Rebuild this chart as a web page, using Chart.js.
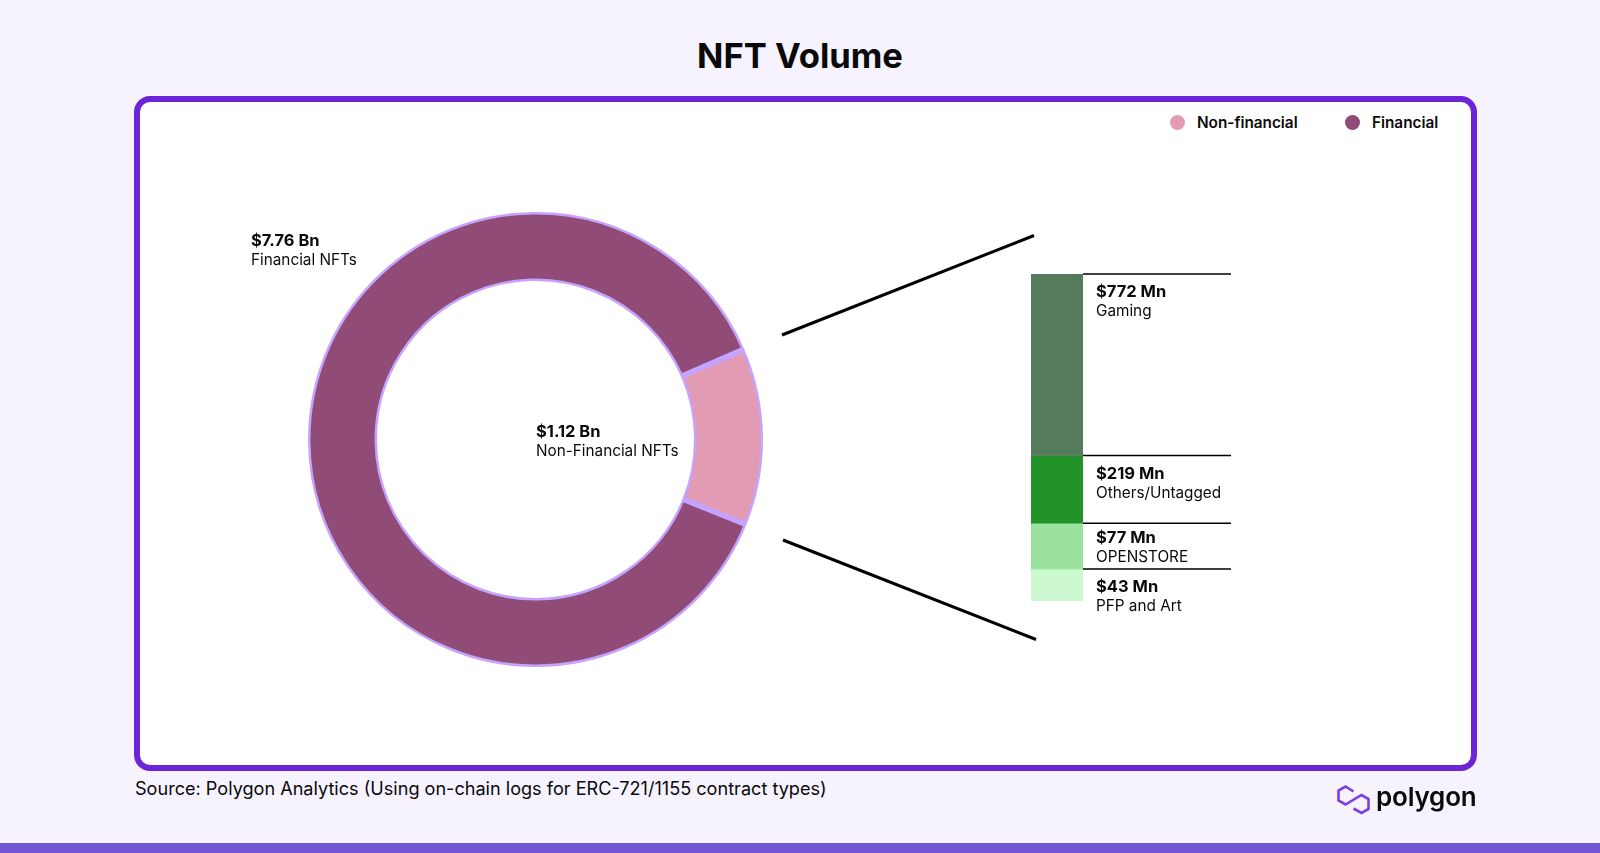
<!DOCTYPE html>
<html>
<head>
<meta charset="utf-8">
<title>NFT Volume</title>
<script src="https://cdn.jsdelivr.net/npm/chart.js@4"></script>
<style>
  html, body { margin: 0; padding: 0; background: #f6f3ff; }
  body { position: relative; width: 1600px; height: 853px; overflow: hidden; font-family: Inter, "Noto Sans", sans-serif; color: #0a0a0a; }
  .abs { position: absolute; white-space: nowrap; }
  #card { left: 134px; top: 96px; width: 1331px; height: 663px; border: 6px solid #6b24d6; border-radius: 16px; background: #fff; }
  #footerBar { left: 0; top: 843px; width: 1600px; height: 10px; background: #7356d4; }
  #title { left: 0; width: 1600px; top: 33px; text-align: center; font-size: 34.6px; line-height: 44px; font-weight: 700; }
  #source { left: 135px; top: 777px; font-size: 18.1px; line-height: 22px; }
  #logoText { left: 1376px; top: 780px; font-size: 26px; line-height: 34px; font-weight: 600; letter-spacing: -0.2px; }
  .dot { width: 15px; height: 15px; border-radius: 50%; }
  .legendText { font-size: 15.3px; line-height: 20px; font-weight: 600; }
  .amount { font-size: 16.5px; line-height: 20px; font-weight: 700; }
  .name { font-size: 15.3px; line-height: 19px; }
  canvas { position: absolute; }
</style>
</head>
<body>
<div id="card" class="abs"></div>
<div id="footerBar" class="abs"></div>
<div id="title" class="abs">NFT Volume</div>
<div id="source" class="abs">Source: Polygon Analytics (Using on-chain logs for ERC-721/1155 contract types)</div>

<div class="abs dot" style="left:1170px;top:115px;background:#e39ab3"></div>
<div class="abs legendText" style="left:1197px;top:113px">Non-financial</div>
<div class="abs dot" style="left:1345px;top:115px;background:#914b77"></div>
<div class="abs legendText" style="left:1372px;top:113px">Financial</div>

<canvas id="ringChart" width="455" height="455" style="left:308px;top:212px;width:455px;height:455px"></canvas>
<canvas id="stackChart" width="200" height="331" style="left:1031px;top:272px;width:200px;height:331px"></canvas>

<svg class="abs" style="left:0;top:0" width="1600" height="853">
  <line x1="782" y1="335" x2="1034" y2="235.5" stroke="#000" stroke-width="3"/>
  <line x1="783" y1="540" x2="1036" y2="639.5" stroke="#000" stroke-width="3"/>
  <path d="M1353.5 791.5 L1345.5 786.5 L1338.5 790.5 V800.5 L1345.5 804.5 L1361.5 795 L1368.5 799 V809 L1361.5 813 L1353.5 808.5" fill="none" stroke="#7b3fe4" stroke-width="2.6"/>
</svg>
<div id="logoText" class="abs">polygon</div>

<div id="labels"></div>

<script>
const ringNames = ["Non-financial", "Financial"];
const ringValues = [1.12, 7.76]; // $ Bn
const ringColors = ["#e39ab3", "#914b77"];

const stackNames = ["Gaming", "Others/Untagged", "OPENSTORE", "PFP and Art"];
const stackAmounts = ["$772 Mn", "$219 Mn", "$77 Mn", "$43 Mn"];
// share of the column height as drawn in the picture (the column is not to scale with the amounts)
const stackShares = [55.5, 20.7, 14.0, 9.8];
const stackColors = ["#557a5c", "#229329", "#9ae29e", "#ccf9d0"];
const labelTops = [281, 463, 527, 576];

// Texto de las etiquetas
const labels = document.getElementById("labels");
function addLabel(x, y, amount, name) {
  const a = document.createElement("div");
  a.className = "abs amount";
  a.style.left = x + "px";
  a.style.top = y + "px";
  a.textContent = amount;
  const n = document.createElement("div");
  n.className = "abs name";
  n.style.left = x + "px";
  n.style.top = (y + 20) + "px";
  n.textContent = name;
  labels.appendChild(a);
  labels.appendChild(n);
}
addLabel(251, 230, "$" + ringValues[1].toFixed(2) + " Bn", "Financial NFTs");
addLabel(536, 421, "$" + ringValues[0].toFixed(2) + " Bn", "Non-Financial NFTs");
stackNames.forEach((name, i) => addLabel(1096, labelTops[i], stackAmounts[i], name));

// Separadores entre los dos sectores, mas gruesos que el borde
const ringSeparators = {
  id: "ringSeparators",
  afterDatasetsDraw(chart) {
    const c = chart.ctx;
    chart.getDatasetMeta(0).data.forEach(arc => {
      c.save();
      c.strokeStyle = "#c4a4ff";
      c.lineWidth = 5.5;
      c.beginPath();
      c.moveTo(arc.x + Math.cos(arc.startAngle) * arc.innerRadius, arc.y + Math.sin(arc.startAngle) * arc.innerRadius);
      c.lineTo(arc.x + Math.cos(arc.startAngle) * arc.outerRadius, arc.y + Math.sin(arc.startAngle) * arc.outerRadius);
      c.stroke();
      c.restore();
    });
  }
};

new Chart(document.getElementById("ringChart"), {
  type: "doughnut",
  data: {
    labels: ringNames,
    datasets: [{
      data: ringValues,
      backgroundColor: ringColors,
      borderColor: "#c4a4ff",
      borderWidth: 2.5
    }]
  },
  options: {
    responsive: false,
    animation: false,
    cutout: "70.6%",
    rotation: 66.6,
    plugins: { legend: { display: false }, tooltip: { enabled: false } }
  },
  plugins: [ringSeparators]
});

// Lineas horizontales desde cada tramo de la columna
const stackRules = {
  id: "stackRules",
  afterDatasetsDraw(chart) {
    const c = chart.ctx;
    stackNames.forEach((name, i) => {
      const bar = chart.getDatasetMeta(i).data[0];
      c.save();
      c.strokeStyle = "#000";
      c.lineWidth = 1.5;
      c.beginPath();
      c.moveTo(chart.chartArea.right, bar.base);
      c.lineTo(chart.width, bar.base);
      c.stroke();
      c.restore();
    });
  }
};

new Chart(document.getElementById("stackChart"), {
  type: "bar",
  data: {
    labels: ["Non-financial"],
    datasets: stackNames.map((name, i) => ({
      label: name,
      data: [stackShares[i]],
      backgroundColor: stackColors[i],
      barPercentage: 1,
      categoryPercentage: 1
    }))
  },
  options: {
    responsive: false,
    animation: false,
    layout: { padding: { top: 2, bottom: 2, left: 0, right: 148 } },
    scales: {
      x: { display: false, stacked: true },
      y: { display: false, stacked: true, reverse: true, min: 0, max: 100 }
    },
    plugins: { legend: { display: false }, tooltip: { enabled: false } }
  },
  plugins: [stackRules]
});
</script>
</body>
</html>
